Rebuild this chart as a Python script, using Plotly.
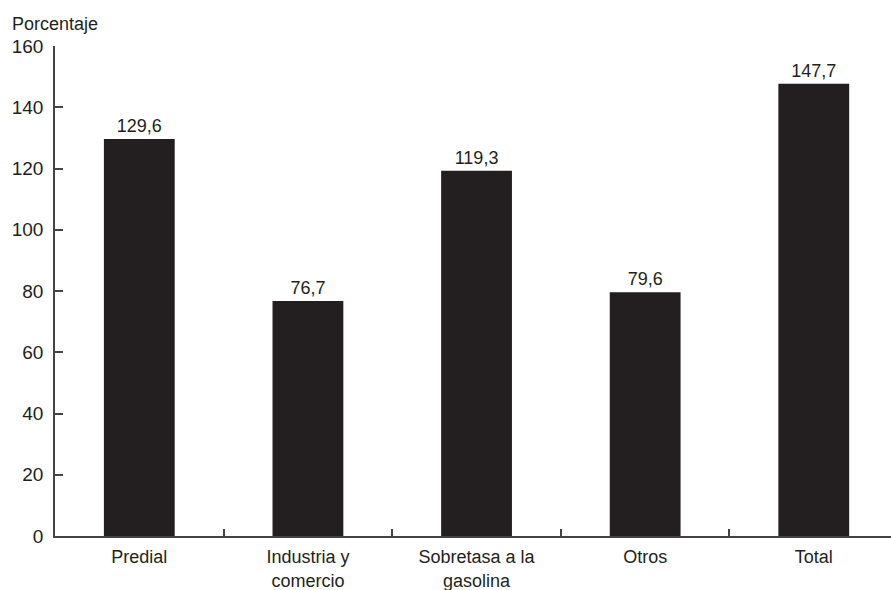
import plotly.graph_objects as go

categories = ["Predial", "Industria y<br>comercio", "Sobretasa a la<br>gasolina", "Otros", "Total"]
values = [129.6, 76.7, 119.3, 79.6, 147.7]
value_labels = ["129,6", "76,7", "119,3", "79,6", "147,7"]
y_ticks = [0, 20, 40, 60, 80, 100, 120, 140, 160]

FONT = "Liberation Sans Narrow, Arial Narrow, Liberation Sans, sans-serif"
INK = "#231f20"

fig = go.Figure(go.Bar(
    x=categories, y=values,
    text=value_labels, textposition="outside",
    textfont=dict(family=FONT, size=18, color=INK),
    marker=dict(color=INK, line=dict(width=0)),
    cliponaxis=False,
))

fig.update_layout(
    width=891, height=590,
    margin=dict(l=55, r=0, t=46, b=54),
    paper_bgcolor="white", plot_bgcolor="white",
    bargap=0.58,
    showlegend=False,
    font=dict(family=FONT, size=18, color=INK),
)
fig.update_xaxes(
    range=[-0.5, 4.458],
    showline=True, linecolor="#444", linewidth=1.5,
    ticks="inside", tickson="boundaries", ticklen=7, tickcolor="#444", tickwidth=1.5,
    showgrid=False, zeroline=False,
    ticklabelstandoff=4,
    tickfont=dict(family=FONT, size=18, color=INK),
)
fig.update_yaxes(
    range=[0, 160], tickvals=y_ticks,
    showline=True, linecolor="#444", linewidth=1.5,
    ticks="inside", ticklen=8, tickcolor="#444", tickwidth=1.5,
    showgrid=False, zeroline=False,
    ticklabelstandoff=6,
    tickfont=dict(family=FONT, size=19, color=INK),
)
fig.add_annotation(
    text="Porcentaje", xref="paper", yref="paper",
    x=-0.054, y=1.045, xanchor="left", yanchor="middle",
    showarrow=False, font=dict(family=FONT, size=18, color=INK),
)
fig.write_html("out.html")
